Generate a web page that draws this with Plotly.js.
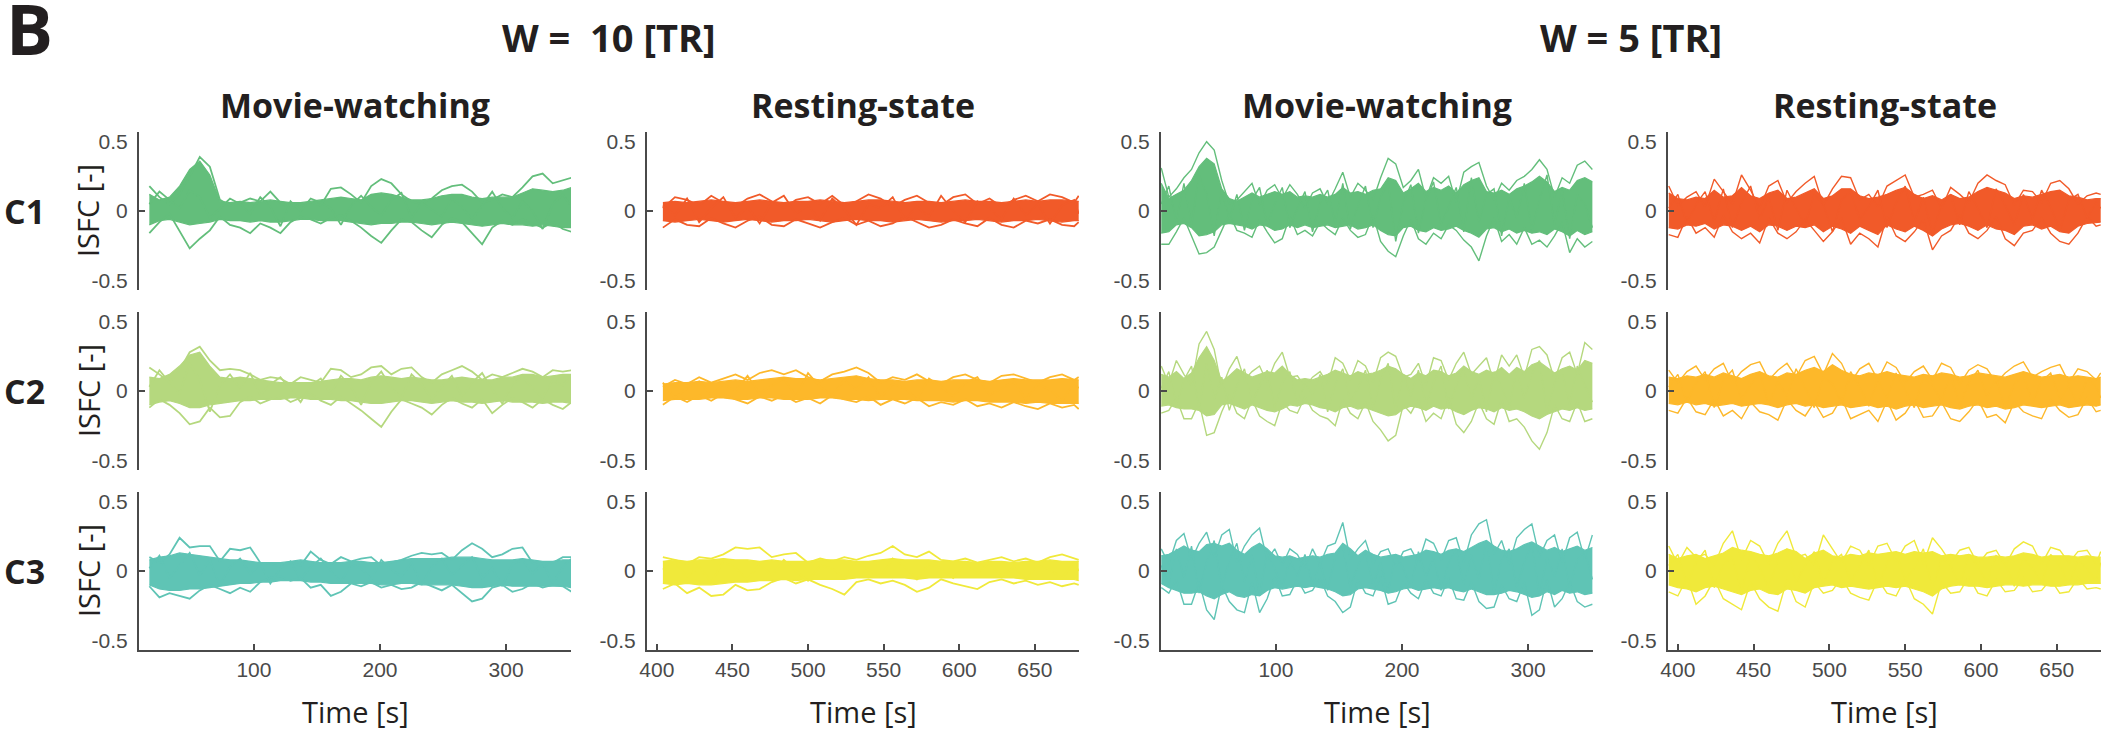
<!DOCTYPE html>
<html><head><meta charset="utf-8">
<script src="https://cdn.plot.ly/plotly-3.0.1.min.js"></script>
<style>html,body{margin:0;padding:0;background:#fff}#chart{width:2105px;height:730px}</style>
</head><body><div id="chart"></div>
<script>
// ---------- time axes ----------
const tMovie10 = [17,25,33,41,49,57,65,73,81,89,97,105,113,121,129,137,145,153,161,169,177,185,193,201,209,217,225,233,241,249,257,265,273,281,289,297,305,313,321,329,337,345,352];
const tRest10 = [404,412,420,428,436,444,452,460,468,476,484,492,500,508,516,524,532,540,548,556,564,572,580,588,596,604,612,620,628,636,644,652,660,668,676,679];
const tMovie5 = [9,15,21,27,33,39,45,51,57,63,69,75,81,87,93,99,105,111,117,123,129,135,141,147,153,159,165,171,177,183,189,195,201,207,213,219,225,231,237,243,249,255,261,267,273,279,285,291,297,303,309,315,321,327,333,339,345,351];
const tRest5 = [394,400,406,412,418,424,430,436,442,448,454,460,466,472,478,484,490,496,502,508,514,520,526,532,538,544,550,556,562,568,574,580,586,592,598,604,610,616,622,628,634,640,646,652,658,664,670,676,679];

// ---------- W = 10, movie ----------
const m10c1Hi = [0.12,0.08,0.10,0.18,0.30,0.36,0.26,0.07,0.06,0.07,0.06,0.07,0.08,0.07,0.06,0.06,0.07,0.08,0.09,0.10,0.09,0.08,0.12,0.13,0.12,0.10,0.08,0.08,0.09,0.11,0.12,0.12,0.10,0.09,0.10,0.10,0.10,0.13,0.16,0.15,0.14,0.15,0.17];
const m10c1Lo = [-0.10,-0.07,-0.06,-0.08,-0.10,-0.09,-0.08,-0.06,-0.07,-0.07,-0.08,-0.07,-0.08,-0.08,-0.07,-0.06,-0.06,-0.07,-0.07,-0.07,-0.08,-0.09,-0.10,-0.09,-0.09,-0.08,-0.08,-0.09,-0.10,-0.09,-0.08,-0.09,-0.10,-0.11,-0.10,-0.09,-0.10,-0.10,-0.11,-0.10,-0.11,-0.12,-0.12];
const m10c1A = [0.18,0.10,0.05,0.12,0.25,0.39,0.32,0.08,0.04,0.06,0.09,0.07,0.14,0.06,0.02,0.05,0.06,0.04,0.16,0.17,0.12,0.06,0.18,0.23,0.20,0.12,0.07,0.05,0.09,0.15,0.18,0.19,0.14,0.06,0.08,0.12,0.10,0.17,0.25,0.27,0.20,0.22,0.24];
const m10c1B = [-0.16,-0.08,-0.02,-0.15,-0.27,-0.20,-0.14,-0.04,-0.10,-0.12,-0.16,-0.09,-0.12,-0.16,-0.08,-0.04,-0.06,-0.09,-0.05,-0.03,-0.07,-0.12,-0.18,-0.23,-0.14,-0.06,-0.08,-0.14,-0.19,-0.10,-0.05,-0.08,-0.16,-0.24,-0.12,-0.07,-0.10,-0.06,-0.09,-0.12,-0.08,-0.13,-0.15];
const m10c1C = [0.05,0.14,0.08,0.02,0.15,0.10,-0.05,0.02,0.09,0.05,-0.02,0.10,0.03,-0.11,0.07,0.00,0.09,0.06,0.02,-0.10,0.04,0.11,0.03,-0.03,0.08,0.13,-0.05,0.06,0.01,-0.04,0.09,0.03,-0.06,0.04,0.14,0.02,-0.05,0.07,0.00,-0.13,0.05,0.12,0.03];

const m10c2Hi = [0.10,0.09,0.12,0.18,0.26,0.28,0.18,0.10,0.09,0.10,0.09,0.08,0.07,0.06,0.06,0.06,0.06,0.07,0.08,0.09,0.09,0.08,0.10,0.11,0.10,0.09,0.10,0.09,0.08,0.08,0.09,0.10,0.09,0.08,0.08,0.10,0.10,0.12,0.12,0.10,0.11,0.12,0.12];
const m10c2Lo = [-0.10,-0.08,-0.07,-0.09,-0.12,-0.12,-0.10,-0.09,-0.08,-0.07,-0.07,-0.06,-0.06,-0.06,-0.05,-0.05,-0.06,-0.06,-0.06,-0.07,-0.07,-0.08,-0.09,-0.09,-0.08,-0.07,-0.07,-0.08,-0.09,-0.08,-0.07,-0.08,-0.08,-0.09,-0.08,-0.07,-0.08,-0.08,-0.08,-0.09,-0.08,-0.08,-0.09];
const m10c2A = [0.17,0.12,0.06,0.15,0.28,0.32,0.22,0.15,0.16,0.15,0.12,0.08,0.10,0.09,0.05,0.10,0.08,0.06,0.16,0.15,0.10,0.12,0.17,0.18,0.12,0.16,0.17,0.10,0.06,0.12,0.15,0.18,0.14,0.08,0.12,0.10,0.13,0.16,0.14,0.10,0.15,0.14,0.15];
const m10c2B = [-0.12,-0.06,-0.10,-0.16,-0.24,-0.22,-0.12,-0.19,-0.18,-0.08,-0.04,-0.09,-0.06,-0.03,-0.08,-0.05,-0.02,-0.07,-0.10,-0.04,-0.09,-0.14,-0.20,-0.26,-0.15,-0.06,-0.09,-0.12,-0.17,-0.10,-0.05,-0.09,-0.12,-0.06,-0.16,-0.10,-0.05,-0.08,-0.12,-0.06,-0.10,-0.13,-0.08];
const m10c2C = [0.03,0.15,0.06,-0.02,0.20,0.08,-0.15,0.04,0.12,0.02,0.13,-0.03,0.05,0.10,0.01,-0.08,0.04,0.09,-0.02,0.11,0.03,-0.10,0.06,0.14,0.02,-0.05,0.12,0.05,-0.06,0.03,0.11,-0.04,0.06,0.13,0.01,-0.09,0.05,0.10,0.02,-0.05,0.08,0.04,0.11];

const m10c3Hi = [0.08,0.10,0.11,0.13,0.12,0.11,0.10,0.09,0.08,0.08,0.07,0.06,0.06,0.06,0.07,0.08,0.07,0.06,0.06,0.06,0.07,0.07,0.06,0.06,0.07,0.08,0.09,0.09,0.09,0.09,0.10,0.10,0.10,0.09,0.08,0.08,0.08,0.09,0.08,0.07,0.07,0.08,0.08];
const m10c3Lo = [-0.10,-0.13,-0.14,-0.14,-0.13,-0.13,-0.12,-0.11,-0.10,-0.09,-0.09,-0.08,-0.08,-0.07,-0.07,-0.07,-0.08,-0.08,-0.09,-0.09,-0.09,-0.09,-0.09,-0.10,-0.10,-0.09,-0.09,-0.10,-0.10,-0.10,-0.10,-0.11,-0.12,-0.12,-0.11,-0.10,-0.11,-0.11,-0.11,-0.11,-0.11,-0.11,-0.12];
const m10c3A = [0.10,0.06,0.12,0.24,0.17,0.18,0.18,0.07,0.16,0.15,0.17,0.06,0.05,0.03,0.06,0.04,0.14,0.08,0.05,0.10,0.07,0.09,0.10,0.04,0.06,0.08,0.11,0.13,0.12,0.13,0.08,0.15,0.20,0.16,0.10,0.12,0.16,0.17,0.06,0.03,0.06,0.10,0.10];
const m10c3B = [-0.11,-0.19,-0.16,-0.18,-0.20,-0.14,-0.10,-0.13,-0.16,-0.12,-0.15,-0.08,-0.05,-0.04,-0.07,-0.05,-0.12,-0.10,-0.18,-0.15,-0.09,-0.11,-0.08,-0.12,-0.10,-0.13,-0.12,-0.08,-0.11,-0.14,-0.10,-0.16,-0.22,-0.20,-0.12,-0.10,-0.15,-0.13,-0.09,-0.12,-0.10,-0.11,-0.15];
const m10c3C = [0.02,0.11,-0.05,0.04,0.13,-0.03,0.08,-0.10,0.03,0.09,-0.02,0.05,-0.09,0.02,0.07,-0.06,0.03,0.09,0.00,-0.08,0.05,0.02,-0.06,0.08,0.01,-0.04,0.06,-0.10,0.03,0.09,-0.03,0.04,0.10,-0.05,0.02,-0.11,0.05,0.08,-0.02,0.06,-0.09,0.03,0.09];

// ---------- W = 10, rest ----------
const r10c1Hi = [0.06,0.07,0.06,0.07,0.08,0.07,0.06,0.07,0.08,0.07,0.06,0.07,0.07,0.08,0.07,0.06,0.07,0.08,0.08,0.07,0.06,0.07,0.07,0.06,0.07,0.08,0.07,0.07,0.06,0.07,0.08,0.07,0.08,0.08,0.07,0.07];
const r10c1Lo = [-0.07,-0.08,-0.07,-0.06,-0.07,-0.08,-0.07,-0.06,-0.07,-0.08,-0.07,-0.07,-0.06,-0.07,-0.08,-0.07,-0.06,-0.07,-0.07,-0.08,-0.07,-0.06,-0.07,-0.08,-0.07,-0.07,-0.06,-0.07,-0.08,-0.07,-0.07,-0.06,-0.07,-0.08,-0.07,-0.07];
const r10c1A = [0.02,0.10,0.08,0.04,0.11,0.06,0.03,0.09,0.12,0.07,0.02,0.08,0.10,0.05,0.11,0.04,0.07,0.12,0.09,0.03,0.08,0.11,0.06,0.04,0.10,0.12,0.05,0.09,0.03,0.08,0.11,0.07,0.12,0.10,0.06,0.11];
const r10c1B = [-0.12,-0.06,-0.10,-0.11,-0.05,-0.09,-0.12,-0.07,-0.04,-0.10,-0.11,-0.06,-0.09,-0.12,-0.08,-0.05,-0.10,-0.07,-0.11,-0.09,-0.04,-0.08,-0.12,-0.10,-0.06,-0.09,-0.11,-0.05,-0.10,-0.12,-0.07,-0.09,-0.06,-0.10,-0.11,-0.08];
const r10c1C = [0.04,-0.03,0.09,-0.08,0.02,0.10,-0.05,0.03,-0.09,0.06,0.11,-0.02,0.04,-0.07,0.09,0.01,-0.10,0.05,0.02,0.10,-0.06,0.03,-0.04,0.11,0.00,-0.08,0.07,0.02,-0.06,0.09,-0.03,0.05,-0.09,0.04,0.08,-0.02];

const r10c2Hi = [0.05,0.06,0.06,0.07,0.06,0.07,0.08,0.07,0.08,0.09,0.10,0.09,0.09,0.08,0.09,0.10,0.11,0.09,0.08,0.08,0.07,0.08,0.08,0.07,0.08,0.08,0.08,0.07,0.08,0.09,0.08,0.08,0.08,0.09,0.08,0.08];
const r10c2Lo = [-0.07,-0.06,-0.06,-0.06,-0.05,-0.05,-0.06,-0.06,-0.05,-0.05,-0.06,-0.06,-0.06,-0.05,-0.05,-0.06,-0.06,-0.07,-0.06,-0.06,-0.06,-0.07,-0.07,-0.07,-0.08,-0.07,-0.07,-0.08,-0.08,-0.08,-0.09,-0.08,-0.09,-0.09,-0.09,-0.09];
const r10c2A = [0.03,0.08,0.05,0.10,0.06,0.09,0.12,0.08,0.13,0.15,0.12,0.15,0.10,0.07,0.12,0.14,0.17,0.13,0.06,0.10,0.08,0.12,0.07,0.05,0.10,0.12,0.08,0.06,0.11,0.12,0.09,0.06,0.10,0.12,0.08,0.10];
const r10c2B = [-0.10,-0.04,-0.08,-0.03,-0.07,-0.02,-0.06,-0.09,-0.04,-0.07,-0.03,-0.08,-0.05,-0.09,-0.03,-0.06,-0.08,-0.04,-0.10,-0.06,-0.09,-0.05,-0.11,-0.08,-0.10,-0.06,-0.11,-0.09,-0.12,-0.08,-0.11,-0.13,-0.09,-0.12,-0.10,-0.13];
const r10c2C = [0.06,-0.05,0.02,0.07,-0.03,0.05,0.00,0.11,-0.02,0.04,0.09,-0.04,0.13,0.03,-0.03,0.08,0.01,0.10,-0.05,0.05,0.02,-0.06,0.09,0.03,-0.04,0.06,0.10,-0.03,0.02,0.07,-0.06,0.05,0.01,-0.07,0.06,0.02];

const r10c3Hi = [0.07,0.08,0.07,0.08,0.08,0.09,0.08,0.08,0.07,0.08,0.07,0.07,0.07,0.08,0.08,0.08,0.07,0.07,0.08,0.09,0.08,0.08,0.08,0.07,0.07,0.07,0.06,0.07,0.07,0.06,0.07,0.07,0.08,0.07,0.07,0.07];
const r10c3Lo = [-0.09,-0.10,-0.09,-0.10,-0.10,-0.09,-0.08,-0.08,-0.07,-0.07,-0.06,-0.07,-0.06,-0.06,-0.06,-0.06,-0.05,-0.05,-0.05,-0.05,-0.05,-0.06,-0.05,-0.05,-0.05,-0.05,-0.05,-0.05,-0.05,-0.05,-0.06,-0.06,-0.06,-0.06,-0.06,-0.07];
const r10c3A = [0.10,0.08,0.05,0.10,0.09,0.12,0.17,0.16,0.17,0.10,0.12,0.13,0.06,0.09,0.07,0.10,0.08,0.11,0.13,0.18,0.12,0.10,0.14,0.08,0.07,0.09,0.06,0.08,0.10,0.07,0.09,0.06,0.10,0.12,0.09,0.08];
const r10c3B = [-0.13,-0.09,-0.16,-0.12,-0.18,-0.17,-0.10,-0.14,-0.13,-0.08,-0.05,-0.09,-0.06,-0.10,-0.13,-0.17,-0.08,-0.06,-0.09,-0.07,-0.10,-0.15,-0.12,-0.06,-0.09,-0.11,-0.13,-0.08,-0.06,-0.09,-0.07,-0.10,-0.08,-0.11,-0.09,-0.10];
const r10c3C = [0.01,0.06,-0.04,0.03,-0.08,0.07,0.02,-0.06,0.05,-0.03,0.08,0.00,-0.07,0.04,0.02,-0.05,0.06,0.01,-0.04,0.09,0.03,-0.06,0.05,0.02,-0.05,0.04,-0.02,0.06,-0.04,0.03,-0.06,0.04,0.01,-0.05,0.06,0.00];

// ---------- W = 5, movie ----------
const m5c1Hi = [0.20,0.09,0.12,0.15,0.22,0.32,0.38,0.34,0.16,0.09,0.07,0.10,0.13,0.10,0.12,0.14,0.12,0.14,0.10,0.11,0.10,0.12,0.10,0.12,0.17,0.13,0.14,0.12,0.15,0.16,0.24,0.22,0.13,0.16,0.20,0.14,0.17,0.15,0.18,0.13,0.19,0.22,0.24,0.14,0.13,0.15,0.12,0.16,0.18,0.21,0.25,0.21,0.14,0.17,0.15,0.22,0.24,0.21];
const m5c1Lo = [-0.16,-0.15,-0.10,-0.09,-0.12,-0.18,-0.17,-0.15,-0.10,-0.09,-0.10,-0.11,-0.13,-0.10,-0.11,-0.14,-0.13,-0.10,-0.12,-0.10,-0.12,-0.11,-0.10,-0.12,-0.11,-0.10,-0.13,-0.12,-0.10,-0.14,-0.17,-0.18,-0.12,-0.11,-0.14,-0.15,-0.12,-0.14,-0.13,-0.11,-0.14,-0.16,-0.19,-0.13,-0.12,-0.15,-0.13,-0.16,-0.14,-0.16,-0.15,-0.17,-0.13,-0.15,-0.18,-0.14,-0.17,-0.15];
const m5c1A = [0.31,0.10,0.16,0.24,0.30,0.42,0.50,0.44,0.22,0.05,0.08,0.14,0.20,0.04,0.15,0.19,0.09,0.19,0.12,0.02,0.13,0.16,0.05,0.16,0.28,0.10,0.20,0.15,0.08,0.24,0.38,0.34,0.17,0.22,0.30,0.09,0.24,0.20,0.25,0.06,0.28,0.32,0.35,0.18,0.08,0.20,0.15,0.22,0.25,0.30,0.37,0.30,0.10,0.24,0.20,0.33,0.36,0.30];
const m5c1B = [-0.24,-0.24,-0.15,-0.05,-0.18,-0.31,-0.30,-0.26,-0.14,-0.02,-0.14,-0.16,-0.19,-0.06,-0.15,-0.23,-0.20,-0.04,-0.17,-0.14,-0.18,-0.08,-0.13,-0.17,-0.05,-0.14,-0.19,-0.17,-0.03,-0.22,-0.29,-0.33,-0.18,-0.06,-0.20,-0.24,-0.16,-0.20,-0.10,-0.14,-0.21,-0.26,-0.36,-0.18,-0.05,-0.22,-0.17,-0.24,-0.12,-0.24,-0.21,-0.26,-0.18,-0.08,-0.30,-0.20,-0.26,-0.22];
const m5c1C = [0.05,0.18,-0.08,0.20,-0.10,0.26,0.12,-0.18,0.15,-0.06,0.12,-0.14,0.08,0.17,-0.10,0.05,0.17,-0.12,0.02,0.14,-0.15,0.06,0.15,-0.09,0.20,-0.13,0.04,0.18,-0.12,0.10,0.20,-0.22,0.06,0.19,-0.16,0.08,0.21,-0.10,0.03,0.17,-0.15,0.24,-0.08,0.12,0.16,-0.18,0.10,-0.05,0.20,-0.14,0.08,0.26,-0.10,0.15,-0.20,0.12,0.05,-0.12];

const m5c2Hi = [0.12,0.10,0.14,0.09,0.13,0.24,0.32,0.22,0.07,0.11,0.16,0.13,0.10,0.12,0.14,0.13,0.18,0.12,0.08,0.09,0.08,0.10,0.12,0.15,0.13,0.11,0.14,0.12,0.13,0.15,0.18,0.16,0.12,0.09,0.13,0.11,0.15,0.14,0.11,0.13,0.18,0.14,0.12,0.15,0.13,0.17,0.12,0.17,0.14,0.19,0.21,0.17,0.13,0.16,0.18,0.15,0.22,0.20];
const m5c2Lo = [-0.11,-0.10,-0.12,-0.13,-0.13,-0.14,-0.18,-0.17,-0.10,-0.09,-0.11,-0.13,-0.10,-0.12,-0.14,-0.15,-0.13,-0.10,-0.11,-0.09,-0.10,-0.12,-0.13,-0.15,-0.12,-0.11,-0.13,-0.12,-0.14,-0.16,-0.18,-0.17,-0.13,-0.11,-0.12,-0.14,-0.11,-0.13,-0.12,-0.15,-0.17,-0.14,-0.12,-0.13,-0.15,-0.12,-0.14,-0.13,-0.15,-0.18,-0.20,-0.17,-0.15,-0.13,-0.14,-0.12,-0.14,-0.13];
const m5c2A = [0.18,0.05,0.22,0.12,0.04,0.34,0.43,0.30,0.02,0.16,0.25,0.08,0.14,0.18,0.06,0.20,0.28,0.10,0.11,0.03,0.10,0.14,0.05,0.24,0.20,0.08,0.22,0.18,0.06,0.24,0.28,0.25,0.10,0.12,0.20,0.04,0.24,0.22,0.08,0.20,0.28,0.12,0.18,0.24,0.06,0.26,0.18,0.26,0.10,0.30,0.32,0.26,0.08,0.24,0.28,0.12,0.35,0.30];
const m5c2B = [-0.16,-0.14,-0.05,-0.20,-0.20,-0.08,-0.32,-0.30,-0.15,-0.03,-0.16,-0.20,-0.06,-0.18,-0.22,-0.25,-0.08,-0.14,-0.16,-0.04,-0.14,-0.18,-0.20,-0.25,-0.06,-0.16,-0.20,-0.08,-0.22,-0.28,-0.36,-0.32,-0.10,-0.16,-0.06,-0.22,-0.16,-0.20,-0.05,-0.24,-0.30,-0.22,-0.08,-0.20,-0.24,-0.06,-0.22,-0.20,-0.26,-0.36,-0.42,-0.30,-0.10,-0.20,-0.22,-0.08,-0.22,-0.20];
const m5c2C = [0.02,0.14,-0.10,0.08,0.18,-0.12,0.20,-0.06,0.10,-0.14,0.04,0.16,-0.08,0.03,0.15,-0.12,0.06,0.14,-0.10,0.07,-0.03,0.12,-0.15,0.05,0.16,-0.08,0.02,0.15,-0.12,0.08,0.20,-0.14,0.12,-0.04,0.15,-0.10,0.06,0.18,-0.13,0.04,0.16,-0.06,0.10,-0.15,0.14,0.03,-0.12,0.15,-0.05,0.12,0.22,-0.16,0.06,0.14,-0.10,0.18,0.04,-0.08];

const m5c3Hi = [0.11,0.12,0.15,0.18,0.15,0.14,0.19,0.20,0.18,0.20,0.15,0.12,0.17,0.20,0.16,0.11,0.10,0.11,0.09,0.10,0.11,0.10,0.12,0.13,0.20,0.16,0.11,0.15,0.12,0.10,0.11,0.12,0.10,0.11,0.12,0.15,0.14,0.12,0.15,0.16,0.14,0.17,0.20,0.22,0.18,0.15,0.14,0.16,0.19,0.21,0.18,0.15,0.17,0.14,0.16,0.18,0.15,0.17];
const m5c3Lo = [-0.09,-0.12,-0.14,-0.16,-0.16,-0.15,-0.18,-0.20,-0.17,-0.15,-0.18,-0.19,-0.17,-0.18,-0.14,-0.12,-0.13,-0.12,-0.11,-0.12,-0.11,-0.12,-0.13,-0.15,-0.18,-0.17,-0.13,-0.12,-0.13,-0.14,-0.16,-0.15,-0.13,-0.12,-0.14,-0.13,-0.12,-0.13,-0.12,-0.14,-0.15,-0.13,-0.15,-0.17,-0.17,-0.16,-0.14,-0.15,-0.17,-0.19,-0.18,-0.15,-0.17,-0.14,-0.16,-0.15,-0.17,-0.16];
const m5c3A = [0.16,0.05,0.22,0.27,0.08,0.20,0.28,0.10,0.26,0.30,0.06,0.18,0.26,0.31,0.08,0.16,0.04,0.16,0.12,0.02,0.16,0.05,0.18,0.20,0.35,0.08,0.16,0.22,0.05,0.14,0.16,0.03,0.14,0.16,0.06,0.23,0.20,0.08,0.22,0.24,0.06,0.26,0.34,0.37,0.12,0.22,0.05,0.24,0.30,0.34,0.10,0.22,0.26,0.06,0.24,0.28,0.08,0.26];
const m5c3B = [-0.12,-0.16,-0.06,-0.24,-0.24,-0.08,-0.28,-0.35,-0.10,-0.22,-0.28,-0.30,-0.08,-0.30,-0.20,-0.04,-0.18,-0.17,-0.06,-0.16,-0.14,-0.05,-0.18,-0.22,-0.30,-0.26,-0.06,-0.16,-0.18,-0.04,-0.24,-0.22,-0.08,-0.16,-0.20,-0.06,-0.16,-0.18,-0.05,-0.20,-0.21,-0.08,-0.22,-0.27,-0.26,-0.10,-0.20,-0.22,-0.08,-0.32,-0.28,-0.06,-0.26,-0.20,-0.08,-0.22,-0.26,-0.24];
const m5c3C = [0.04,-0.10,0.16,-0.05,0.18,-0.16,0.06,0.22,-0.12,0.08,0.20,-0.08,0.12,-0.18,0.14,0.02,-0.12,0.08,-0.04,0.12,-0.10,0.06,-0.14,0.10,0.18,-0.12,0.04,0.14,-0.10,0.06,-0.15,0.12,0.02,-0.12,0.14,-0.04,0.10,-0.14,0.06,0.15,-0.10,0.12,-0.06,0.22,-0.16,0.08,0.16,-0.12,0.06,0.20,-0.18,0.10,-0.04,0.16,-0.12,0.08,0.14,-0.06];

// ---------- W = 5, rest ----------
const r5c1Hi = [0.13,0.09,0.08,0.10,0.09,0.15,0.10,0.11,0.17,0.11,0.09,0.13,0.15,0.09,0.10,0.13,0.16,0.09,0.11,0.16,0.16,0.11,0.09,0.10,0.12,0.15,0.17,0.12,0.09,0.11,0.08,0.12,0.09,0.10,0.14,0.17,0.15,0.13,0.09,0.11,0.10,0.12,0.14,0.15,0.11,0.10,0.08,0.09,0.09];
const r5c1Lo = [-0.12,-0.13,-0.10,-0.11,-0.09,-0.13,-0.10,-0.11,-0.14,-0.11,-0.15,-0.10,-0.11,-0.14,-0.11,-0.12,-0.10,-0.15,-0.11,-0.13,-0.16,-0.11,-0.14,-0.17,-0.10,-0.13,-0.15,-0.11,-0.14,-0.18,-0.13,-0.10,-0.09,-0.11,-0.14,-0.10,-0.13,-0.14,-0.17,-0.11,-0.10,-0.13,-0.11,-0.15,-0.16,-0.11,-0.09,-0.08,-0.08];
const r5c1A = [0.18,0.04,0.10,0.14,0.03,0.23,0.14,0.05,0.26,0.15,0.02,0.18,0.22,0.06,0.14,0.20,0.25,0.04,0.16,0.25,0.24,0.08,0.12,0.03,0.18,0.22,0.26,0.10,0.12,0.15,0.02,0.17,0.12,0.06,0.20,0.26,0.22,0.19,0.04,0.15,0.14,0.06,0.20,0.22,0.16,0.05,0.11,0.13,0.12];
const r5c1B = [-0.17,-0.19,-0.04,-0.16,-0.12,-0.19,-0.03,-0.15,-0.20,-0.16,-0.23,-0.05,-0.16,-0.20,-0.15,-0.06,-0.14,-0.22,-0.15,-0.05,-0.24,-0.16,-0.20,-0.26,-0.04,-0.18,-0.22,-0.15,-0.06,-0.28,-0.18,-0.14,-0.03,-0.16,-0.20,-0.14,-0.04,-0.20,-0.25,-0.16,-0.14,-0.05,-0.16,-0.22,-0.24,-0.16,-0.04,-0.11,-0.10];
const r5c1C = [0.02,0.12,-0.10,0.05,0.14,-0.08,0.16,-0.12,0.06,0.18,-0.06,0.10,-0.14,0.15,0.02,-0.10,0.12,0.05,-0.15,0.08,0.14,-0.06,0.03,0.15,-0.12,0.06,0.18,-0.08,0.10,-0.16,0.05,0.12,-0.10,0.14,0.02,-0.12,0.16,0.04,-0.10,0.12,-0.06,0.15,0.03,-0.14,0.08,0.12,-0.05,0.06,0.02];

const r5c2Hi = [0.10,0.09,0.11,0.10,0.12,0.10,0.13,0.11,0.09,0.12,0.14,0.11,0.10,0.13,0.12,0.15,0.17,0.14,0.19,0.15,0.12,0.11,0.13,0.12,0.14,0.12,0.11,0.10,0.12,0.11,0.13,0.12,0.10,0.11,0.13,0.12,0.11,0.10,0.12,0.14,0.12,0.10,0.11,0.12,0.10,0.11,0.10,0.09,0.10];
const r5c2Lo = [-0.09,-0.10,-0.08,-0.10,-0.09,-0.11,-0.10,-0.09,-0.11,-0.10,-0.09,-0.10,-0.12,-0.10,-0.09,-0.11,-0.10,-0.12,-0.11,-0.10,-0.12,-0.11,-0.10,-0.12,-0.11,-0.13,-0.11,-0.10,-0.12,-0.11,-0.10,-0.12,-0.13,-0.11,-0.10,-0.12,-0.11,-0.13,-0.12,-0.10,-0.11,-0.12,-0.11,-0.10,-0.12,-0.11,-0.10,-0.11,-0.10];
const r5c2A = [0.15,0.06,0.14,0.18,0.08,0.16,0.20,0.06,0.14,0.19,0.21,0.08,0.15,0.20,0.10,0.22,0.25,0.12,0.27,0.20,0.06,0.16,0.20,0.08,0.21,0.17,0.06,0.14,0.18,0.08,0.20,0.17,0.05,0.15,0.19,0.16,0.06,0.13,0.18,0.21,0.10,0.14,0.17,0.19,0.06,0.16,0.14,0.08,0.13];
const r5c2B = [-0.14,-0.16,-0.05,-0.15,-0.17,-0.06,-0.18,-0.14,-0.20,-0.08,-0.15,-0.17,-0.21,-0.06,-0.14,-0.18,-0.08,-0.19,-0.16,-0.05,-0.20,-0.17,-0.14,-0.22,-0.07,-0.21,-0.16,-0.06,-0.19,-0.18,-0.08,-0.20,-0.22,-0.15,-0.06,-0.19,-0.17,-0.23,-0.08,-0.15,-0.18,-0.20,-0.06,-0.14,-0.19,-0.17,-0.05,-0.15,-0.14];
const r5c2C = [0.03,0.12,-0.08,0.06,0.14,-0.12,0.08,0.15,-0.06,0.04,0.13,-0.10,0.07,-0.04,0.16,0.02,-0.12,0.10,0.05,-0.09,0.14,0.03,-0.11,0.09,-0.05,0.13,0.01,-0.12,0.10,0.04,-0.07,0.12,-0.10,0.06,0.15,-0.04,0.09,-0.12,0.05,0.11,-0.08,0.07,0.13,-0.06,0.04,-0.10,0.09,0.03,-0.05];

const r5c3Hi = [0.12,0.09,0.11,0.12,0.09,0.11,0.13,0.17,0.15,0.14,0.12,0.11,0.13,0.16,0.14,0.09,0.13,0.15,0.11,0.10,0.12,0.11,0.13,0.12,0.13,0.14,0.12,0.14,0.13,0.14,0.11,0.12,0.11,0.12,0.10,0.10,0.11,0.10,0.11,0.13,0.12,0.10,0.11,0.11,0.11,0.10,0.11,0.10,0.10];
const r5c3Lo = [-0.10,-0.12,-0.13,-0.15,-0.12,-0.11,-0.13,-0.15,-0.17,-0.14,-0.13,-0.16,-0.17,-0.13,-0.14,-0.16,-0.12,-0.11,-0.10,-0.12,-0.11,-0.12,-0.13,-0.12,-0.11,-0.12,-0.11,-0.13,-0.15,-0.18,-0.13,-0.11,-0.10,-0.11,-0.11,-0.12,-0.11,-0.10,-0.10,-0.11,-0.10,-0.10,-0.11,-0.11,-0.10,-0.10,-0.09,-0.09,-0.09];
const r5c3A = [0.18,0.05,0.17,0.10,0.12,0.04,0.20,0.29,0.08,0.22,0.18,0.05,0.20,0.29,0.10,0.12,0.04,0.26,0.16,0.06,0.18,0.15,0.04,0.18,0.20,0.07,0.18,0.22,0.05,0.24,0.16,0.06,0.15,0.17,0.05,0.13,0.15,0.04,0.16,0.21,0.18,0.05,0.17,0.15,0.06,0.14,0.15,0.05,0.14];
const r5c3B = [-0.15,-0.18,-0.05,-0.24,-0.18,-0.06,-0.20,-0.24,-0.28,-0.08,-0.20,-0.26,-0.29,-0.06,-0.22,-0.26,-0.08,-0.16,-0.14,-0.05,-0.16,-0.19,-0.21,-0.06,-0.16,-0.18,-0.05,-0.20,-0.24,-0.31,-0.08,-0.16,-0.15,-0.04,-0.16,-0.18,-0.06,-0.15,-0.14,-0.05,-0.15,-0.14,-0.06,-0.16,-0.15,-0.05,-0.13,-0.12,-0.13];
const r5c3C = [0.04,0.12,-0.10,0.06,0.15,-0.12,0.05,0.10,-0.16,0.13,0.02,-0.12,0.08,0.16,-0.08,0.04,0.14,-0.10,0.07,0.12,-0.08,0.03,0.15,-0.12,0.06,0.13,-0.06,0.02,0.16,-0.14,0.10,0.04,-0.10,0.12,0.03,-0.08,0.11,0.05,-0.11,0.09,0.02,-0.09,0.12,0.04,-0.10,0.08,0.02,-0.07,0.06];

// ---------- labels & colours ----------
const windowTitles = ['W =  10 [TR]', 'W = 5 [TR]'];
const conditionTitles = ['Movie-watching', 'Resting-state', 'Movie-watching', 'Resting-state'];
const componentLabels = ['C1', 'C2', 'C3'];
const movieTicks = [100, 200, 300];
const restTicks = [400, 450, 500, 550, 600, 650];
const yTicks = [-0.5, 0, 0.5];
const yTickText = ['-0.5', '0', '0.5'];
const movieColors = ['#63be7b', '#b5d87e', '#5fc4b5'];
const restColors = ['#f15a29', '#fdb82a', '#f0e93a'];

// ---------- geometry (pixels) ----------
const W = 2105, H = 730;
const colPx = [[139, 571], [647, 1079], [1161, 1593], [1668, 2101]];
const rowPx = [[132, 290], [312, 470], [492, 650]];
const movieRange = [8.8, 351.5];
const restRange = [393.5, 679.2];
const yLim = 0.57;

const panelData = [
  [tMovie10, m10c1Hi, m10c1Lo, m10c1A, m10c1B, m10c1C],
  [tRest10,  r10c1Hi, r10c1Lo, r10c1A, r10c1B, r10c1C],
  [tMovie5,  m5c1Hi,  m5c1Lo,  m5c1A,  m5c1B,  m5c1C],
  [tRest5,   r5c1Hi,  r5c1Lo,  r5c1A,  r5c1B,  r5c1C],
  [tMovie10, m10c2Hi, m10c2Lo, m10c2A, m10c2B, m10c2C],
  [tRest10,  r10c2Hi, r10c2Lo, r10c2A, r10c2B, r10c2C],
  [tMovie5,  m5c2Hi,  m5c2Lo,  m5c2A,  m5c2B,  m5c2C],
  [tRest5,   r5c2Hi,  r5c2Lo,  r5c2A,  r5c2B,  r5c2C],
  [tMovie10, m10c3Hi, m10c3Lo, m10c3A, m10c3B, m10c3C],
  [tRest10,  r10c3Hi, r10c3Lo, r10c3A, r10c3B, r10c3C],
  [tMovie5,  m5c3Hi,  m5c3Lo,  m5c3A,  m5c3B,  m5c3C],
  [tRest5,   r5c3Hi,  r5c3Lo,  r5c3A,  r5c3B,  r5c3C]
];

const axisColor = '#4a4a4a';
const textColor = '#231f20';
const traces = [];
const layout = {
  width: W, height: H, margin: {l: 0, r: 0, t: 0, b: 0},
  paper_bgcolor: '#ffffff', plot_bgcolor: 'rgba(0,0,0,0)',
  showlegend: false, font: {family: 'Open Sans', color: textColor},
  annotations: []
};

panelData.forEach((p, i) => {
  const k = i + 1, r = Math.floor(i / 4), c = i % 4;
  const isRest = c % 2 === 1;
  const color = isRest ? restColors[r] : movieColors[r];
  const lw = c < 2 ? 1.8 : 1.4;
  const xa = 'x' + (k === 1 ? '' : k), ya = 'y' + (k === 1 ? '' : k);
  const [t, hi, lo, a, b, cc] = p;
  const base = {x: t, xaxis: xa, yaxis: ya, mode: 'lines', hoverinfo: 'skip', showlegend: false};
  traces.push(Object.assign({}, base, {y: lo, line: {color: color, width: 1.2}}));
  traces.push(Object.assign({}, base, {y: hi, line: {color: color, width: 1.2}, fill: 'tonexty', fillcolor: color}));
  [a, b, cc].forEach(s => traces.push(Object.assign({}, base, {y: s, line: {color: color, width: lw}})));

  const ticks = isRest ? restTicks : movieTicks;
  layout['xaxis' + (k === 1 ? '' : k)] = {
    domain: [colPx[c][0] / W, colPx[c][1] / W], range: isRest ? restRange : movieRange,
    anchor: ya, visible: r === 2, showline: true, linecolor: axisColor, linewidth: 2,
    ticks: 'inside', ticklen: 6, tickwidth: 2, tickcolor: axisColor,
    tickmode: 'array', tickvals: ticks, ticktext: ticks.map(String),
    tickfont: {family: 'Liberation Sans', size: 21, color: axisColor},
    showgrid: false, zeroline: false, fixedrange: true
  };
  layout['yaxis' + (k === 1 ? '' : k)] = {
    domain: [1 - rowPx[r][1] / H, 1 - rowPx[r][0] / H], range: [-yLim, yLim],
    anchor: xa, showline: true, linecolor: axisColor, linewidth: 2,
    tickmode: 'array', tickvals: yTicks, ticktext: yTickText,
    ticks: 'inside', ticklen: 0, tickwidth: 0, tickcolor: axisColor, ticklabelstandoff: 5,
    minor: {tickmode: 'array', tickvals: [-yLim + 0.001, 0, yLim - 0.001], ticks: 'inside', ticklen: 6, tickwidth: 2, tickcolor: axisColor, showgrid: false},
    tickfont: {family: 'Liberation Sans', size: 21, color: axisColor},
    showgrid: false, zeroline: false, fixedrange: true
  };
});

function ann(text, xpx, ypx, size, opts) {
  layout.annotations.push(Object.assign({
    text: text, xref: 'paper', yref: 'paper', x: xpx / W, y: 1 - ypx / H,
    xanchor: 'center', yanchor: 'middle', showarrow: false,
    font: {family: 'Open Sans', size: size, color: textColor}
  }, opts || {}));
}

ann('<b>B</b>', 4, 28, 70, {xanchor: 'left'});
ann('<b>' + windowTitles[0] + '</b>', (colPx[0][0] + colPx[1][1]) / 2, 37, 38);
ann('<b>' + windowTitles[1] + '</b>', (colPx[2][0] + colPx[3][1]) / 2, 37, 38);
conditionTitles.forEach((s, c) => ann('<b>' + s + '</b>', (colPx[c][0] + colPx[c][1]) / 2, 105, 34));
componentLabels.forEach((s, r) => {
  const yc = (rowPx[r][0] + rowPx[r][1]) / 2;
  ann('<b>' + s + '</b>', 24, yc, 34);
  ann('ISFC [-]', 88, yc, 29, {textangle: -90});
});
for (let c = 0; c < 4; c++) ann('Time [s]', (colPx[c][0] + colPx[c][1]) / 2, 711, 29);

Plotly.newPlot('chart', traces, layout, {staticPlot: true, displayModeBar: false});
</script>
</body></html>
